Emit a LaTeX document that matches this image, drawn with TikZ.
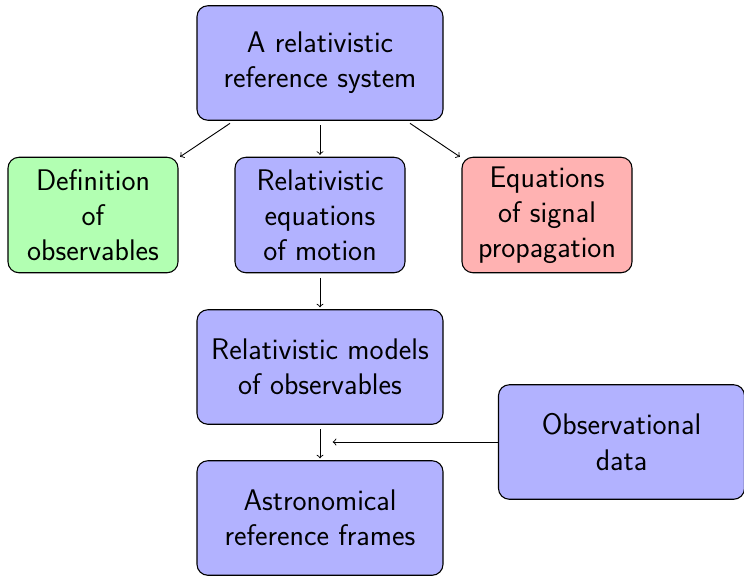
\documentclass[tikz,border=0pt]{standalone}
\usetikzlibrary{calc}
\begin{document}
\begin{tikzpicture}[x=0.55pt,y=-0.55pt,
  box/.style={draw=black, line width=0.6pt, rounded corners=6pt, align=center,
    font=\sffamily\fontsize{16.4}{19.3}\selectfont, inner sep=0pt},
  wide/.style={box, minimum width=135.3pt, minimum height=63pt},
  small/.style={box, minimum width=93.5pt, minimum height=63.5pt},
  conn/.style={->, line width=0.5pt, shorten <=2.5pt, shorten >=1pt}]
\useasboundingbox (0,0) rectangle (744,575);
\node[wide, fill=blue!30] (top) at (320,63) {A relativistic\\reference system};
\node[small, fill=green!30] (def) at (93,215) {Definition\\of\\observables};
\node[small, fill=blue!30] (eqm) at (320,215) {Relativistic\\equations\\of motion};
\node[small, fill=red!30] (sig) at (547,215) {Equations\\of signal\\propagation};
\node[wide, fill=blue!30] (mod) at (320,367) {Relativistic models\\of observables};
\node[wide, fill=blue!30] (ast) at (320,518) {Astronomical\\reference frames};
\node[wide, fill=blue!30] (obs) at (621.5,442) {Observational\\data};
\coordinate (mid) at (320,442);
\draw[conn] (top) -- (def);
\draw[conn] (top) -- (eqm);
\draw[conn] (top) -- (sig);
\draw[conn] (eqm) -- (mod);
\draw[conn] (mod) -- (ast);
\draw[conn, shorten <=0pt, shorten >=7pt] (obs) -- (mid);
\end{tikzpicture}
\end{document}
